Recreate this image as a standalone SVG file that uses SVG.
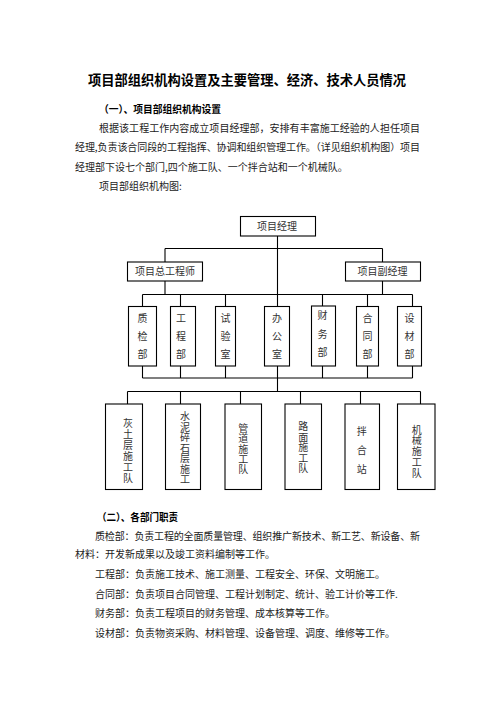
<svg xmlns="http://www.w3.org/2000/svg" width="496" height="702" viewBox="0 0 496 702">
<style>
text{font-family:"Noto Sans CJK SC","Noto Sans",sans-serif;fill:#222}
.title{font-size:13.4px;font-weight:bold;fill:#000}
.h{font-size:10.2px;font-weight:bold;fill:#000}
.p{font-size:10px}
.lbl{font-size:10px;fill:#333;text-anchor:middle}
.v{font-size:10px;fill:#333;writing-mode:vertical-rl;text-anchor:start}
.box{fill:#fff;stroke:#000;stroke-width:1.1}
.con{fill:none;stroke:#000;stroke-width:1.1}
</style>
<rect width="496" height="702" fill="#fff"/>
<text class="title" x="88" y="85" textLength="318" lengthAdjust="spacingAndGlyphs">项目部组织机构设置及主要管理、经济、技术人员情况</text>
<text class="h" x="99" y="113" textLength="122" lengthAdjust="spacingAndGlyphs">（一）、项目部组织机构设置</text>
<text class="p" x="99" y="132" textLength="321" lengthAdjust="spacing">根据该工程工作内容成立项目经理部，安排有丰富施工经验的人担任项目</text>
<text class="p" x="75" y="151" textLength="345" lengthAdjust="spacing">经理,负责该合同段的工程指挥、协调和组织管理工作。（详见组织机构图）项目</text>
<text class="p" x="75" y="170.5">经理部下设七个部门,四个施工队、一个拌合站和一个机械队。</text>
<text class="p" x="99" y="190">项目部组织机构图:</text>

<g id="connectors">
<path class="con" d="M277.5 236V306.5M277.5 366V391.5M165 248.5H382.5M165 248.5V262M382.5 248.5V262M165 281V294.5M382.5 281V294.5M142.5 294.5H412.5M142.5 294.5V306.5M180.5 294.5V306.5M225.5 294.5V306.5M322.5 294.5V306M367.5 294.5V306.5M412.5 294.5V306.5M142.5 366V378M180.5 366V378M225.5 366V378M322.5 366V378M367.5 366V378M412.5 366V378M142.5 378H412.5M127.5 391.5H420.5M127.5 391.5V404M180.5 391.5V404M240.5 391.5V404M300.5 391.5V404M360.5 391.5V404M420.5 391.5V404"/>
</g>

<g id="n-xmjl"><rect class="box" x="240.5" y="216.5" width="75" height="19.5"/><text class="lbl" x="277" y="230">项目经理</text></g>
<g id="n-zgcs"><rect class="box" x="127.5" y="262" width="75" height="19"/><text class="lbl" x="165" y="275.3">项目总工程师</text></g>
<g id="n-fjl"><rect class="box" x="345.5" y="262" width="75" height="19"/><text class="lbl" x="382.5" y="275.3">项目副经理</text></g>

<g id="n-zjb"><rect class="box" x="128.5" y="306.5" width="28" height="59.5"/><text class="lbl"><tspan x="142.5" y="322">质</tspan><tspan x="142.5" y="340.3">检</tspan><tspan x="142.5" y="357.6">部</tspan></text></g>
<g id="n-gcb"><rect class="box" x="170.5" y="306.5" width="25" height="59.5"/><text class="lbl"><tspan x="181" y="322">工</tspan><tspan x="181" y="340.3">程</tspan><tspan x="181" y="357.6">部</tspan></text></g>
<g id="n-sys"><rect class="box" x="215.5" y="306.5" width="20" height="59.5"/><text class="lbl"><tspan x="225.5" y="322">试</tspan><tspan x="225.5" y="340.3">验</tspan><tspan x="225.5" y="357.6">室</tspan></text></g>
<g id="n-bgs"><rect class="box" x="264.5" y="306.5" width="25" height="59.5"/><text class="lbl"><tspan x="277" y="322">办</tspan><tspan x="277" y="340.3">公</tspan><tspan x="277" y="357.6">室</tspan></text></g>
<g id="n-cwb"><rect class="box" x="311.5" y="306" width="24" height="60"/><text class="lbl"><tspan x="322.5" y="318.6">财</tspan><tspan x="322.5" y="337.9">务</tspan><tspan x="322.5" y="356.3">部</tspan></text></g>
<g id="n-htb"><rect class="box" x="356.5" y="306.5" width="22" height="59.5"/><text class="lbl"><tspan x="367.5" y="322">合</tspan><tspan x="367.5" y="340.3">同</tspan><tspan x="367.5" y="357.6">部</tspan></text></g>
<g id="n-scb"><rect class="box" x="397.5" y="306.5" width="24" height="59.5"/><text class="lbl"><tspan x="409.5" y="322">设</tspan><tspan x="409.5" y="340.3">材</tspan><tspan x="409.5" y="357.6">部</tspan></text></g>

<g id="n-htc"><rect class="box" x="105.5" y="404" width="37" height="85.5"/><text class="v" x="128" y="418.3" letter-spacing="1">灰土层施工队</text></g>
<g id="n-snsc"><rect class="box" x="165.5" y="404" width="35" height="85.5"/><text class="v" x="185" y="411.7" letter-spacing="0.5">水泥碎石层施工</text></g>
<g id="n-gd"><rect class="box" x="225" y="404" width="36.5" height="85.5"/><text class="v" x="243.3" y="423.3" letter-spacing="0.3">管道施工队</text></g>
<g id="n-lm"><rect class="box" x="285" y="404" width="36.5" height="85.5"/><text class="v" x="303.3" y="421.7" letter-spacing="0.4">路面施工队</text></g>
<g id="n-bhz"><rect class="box" x="345" y="404" width="34.5" height="85.5"/><text class="v" x="361.7" y="426.7" letter-spacing="8.8">拌合站</text></g>
<g id="n-jx"><rect class="box" x="397.5" y="404" width="37.5" height="85.5"/><text class="v" x="416.7" y="425" letter-spacing="0.7">机械施工队</text></g>

<text class="h" x="97" y="520.5" textLength="81" lengthAdjust="spacingAndGlyphs">（二）、各部门职责</text>
<text class="p" x="95" y="539.5" textLength="325" lengthAdjust="spacing">质检部：负责工程的全面质量管理、组织推广新技术、新工艺、新设备、新</text>
<text class="p" x="75" y="558">材料：开发新成果以及竣工资料编制等工作。</text>
<text class="p" x="95" y="577.5">工程部：负责施工技术、施工测量、工程安全、环保、文明施工。</text>
<text class="p" x="95" y="597.5">合同部：负责项目合同管理、工程计划制定、统计、验工计价等工作.</text>
<text class="p" x="95" y="617">财务部：负责工程项目的财务管理、成本核算等工作。</text>
<text class="p" x="95" y="637">设材部：负责物资采购、材料管理、设备管理、调度、维修等工作。</text>
</svg>
